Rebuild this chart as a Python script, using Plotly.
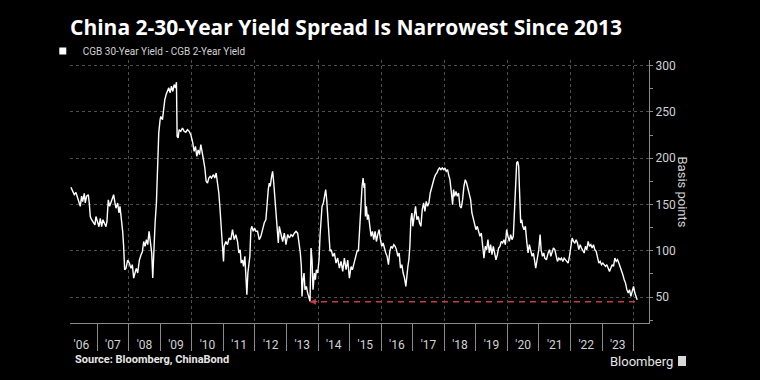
import plotly.graph_objects as go
from datetime import datetime

# ---------------- data (decimal year, basis points) ----------------
t_2006_2008 = [2006.169, 2006.222, 2006.275, 2006.328, 2006.381, 2006.434, 2006.466, 2006.508, 2006.540, 2006.593,
               2006.624, 2006.667, 2006.720, 2006.751, 2006.783, 2006.825, 2006.889, 2006.931, 2006.963,
               2007.016, 2007.058, 2007.101, 2007.143, 2007.185, 2007.228, 2007.280, 2007.312, 2007.354, 2007.397,
               2007.439, 2007.492, 2007.524, 2007.566, 2007.598, 2007.651, 2007.693, 2007.725, 2007.767, 2007.810,
               2007.841, 2007.873, 2007.915, 2007.968,
               2008.021, 2008.074, 2008.116, 2008.159, 2008.201, 2008.243, 2008.286, 2008.339, 2008.392, 2008.434,
               2008.476, 2008.519, 2008.561, 2008.603, 2008.646, 2008.688, 2008.730, 2008.762, 2008.794, 2008.836,
               2008.878, 2008.921, 2008.952, 2008.995]
v_2006_2008 = [168.5, 164, 160.6, 163, 157, 153, 148, 159, 153, 162,
               151.6, 159, 160.6, 151.6, 137, 133.6, 130, 128, 137,
               131.8, 126, 135, 126, 133.6, 130, 126, 131.8, 155, 148,
               153, 159, 160.6, 151.6, 146, 151.6, 140.8, 148, 135, 121,
               104.8, 79.5, 81, 90,
               86.7, 81, 85, 70.5, 76, 81, 76, 90, 95.7, 99,
               110, 104.8, 112, 106.6, 121, 110, 97.5, 70.5, 104.8, 130,
               151.6, 198, 227, 241.6]

t_2009_2011 = [2009.016, 2009.069, 2009.101, 2009.143, 2009.185, 2009.228, 2009.270, 2009.312, 2009.354, 2009.397,
               2009.439, 2009.481, 2009.513, 2009.534, 2009.566, 2009.598, 2009.651, 2009.704, 2009.757, 2009.810,
               2009.862, 2009.915, 2009.968,
               2010.021, 2010.074, 2010.116, 2010.159, 2010.201, 2010.243, 2010.286, 2010.328, 2010.370, 2010.413,
               2010.455, 2010.497, 2010.540, 2010.582, 2010.624, 2010.688, 2010.730, 2010.772, 2010.815, 2010.857,
               2010.889, 2010.921, 2010.952, 2010.984,
               2011.005, 2011.026, 2011.079, 2011.132, 2011.185, 2011.238, 2011.291, 2011.344, 2011.397, 2011.450,
               2011.492, 2011.534, 2011.566, 2011.608, 2011.640, 2011.683, 2011.714, 2011.746, 2011.778, 2011.810,
               2011.841, 2011.873, 2011.905, 2011.947, 2011.989, 2012.032]
v_2009_2011 = [245, 241.6, 252.4, 263, 268.7, 272, 275.9, 270.5, 277.7, 272,
               279.5, 275.9, 282, 223.6, 221.8, 230.8, 229, 232.6, 229, 228,
               230.8, 229, 225.4,
               218, 207.4, 212.8, 202, 209, 203.8, 214.6, 203.8, 198.4, 189.4,
               175, 173, 178.6, 180.4, 178.6, 182.2, 178.6, 184, 173, 162.4,
               148, 133.6, 115.6, 104.8,
               88.5, 104.8, 110, 106.6, 113.8, 112, 122.8, 112, 117.4, 110,
               97.6, 101, 86.7, 90, 83, 94, 72.3, 52.5, 76, 90,
               94, 122.8, 126.4, 121, 124.6, 121]

t_2012_2014 = [2012.085, 2012.138, 2012.190, 2012.243, 2012.296, 2012.349, 2012.381, 2012.423, 2012.455, 2012.487,
               2012.529, 2012.561, 2012.593, 2012.635, 2012.667, 2012.698, 2012.741, 2012.772, 2012.825, 2012.878,
               2012.931, 2012.984,
               2013.037, 2013.090, 2013.143, 2013.196, 2013.249, 2013.302, 2013.354, 2013.397, 2013.439, 2013.471,
               2013.492, 2013.524, 2013.556, 2013.587, 2013.630, 2013.672, 2013.714, 2013.746, 2013.778, 2013.810,
               2013.841, 2013.884, 2013.915, 2013.947, 2013.989,
               2014.032, 2014.063, 2014.095, 2014.127, 2014.169, 2014.201, 2014.243, 2014.275, 2014.307, 2014.339,
               2014.381, 2014.423, 2014.466, 2014.519, 2014.571, 2014.624, 2014.677, 2014.730, 2014.783, 2014.836,
               2014.889, 2014.942, 2014.995, 2015.048]
v_2012_2014 = [121, 112, 115.6, 122.8, 130, 133.6, 151.6, 166, 173, 169.6,
               180.4, 185.8, 175, 155.2, 135.4, 122.8, 108.4, 126.4, 119, 110,
               119, 106.6,
               117.4, 113.8, 117.4, 115.6, 119, 121, 119, 110, 97.6, 83,
               50.7, 68.7, 76, 58, 61.5, 54.3, 49, 45.5, 103, 90,
               58, 76, 68.7, 79.5, 76,
               90, 115.6, 137, 148, 151.6, 158.8, 166, 155, 137, 115.6,
               99.4, 101, 94, 97.6, 86.7, 92.1, 81.3, 88.5, 77.7, 92,
               79.5, 90, 70.5, 83]

t_2015_2017 = [2015.090, 2015.143, 2015.196, 2015.249, 2015.280, 2015.302, 2015.333, 2015.365, 2015.397, 2015.429,
               2015.460, 2015.481, 2015.503, 2015.534, 2015.566, 2015.598, 2015.640, 2015.683, 2015.725, 2015.767,
               2015.810, 2015.852, 2015.894, 2015.937, 2015.979,
               2016.021, 2016.063, 2016.106, 2016.148, 2016.190, 2016.233, 2016.275, 2016.317, 2016.360, 2016.402,
               2016.444, 2016.487, 2016.529, 2016.571, 2016.614, 2016.656, 2016.698, 2016.741, 2016.783, 2016.815,
               2016.847, 2016.878, 2016.910, 2016.942, 2016.974,
               2017.005, 2017.048, 2017.090, 2017.132, 2017.175, 2017.217, 2017.259, 2017.302, 2017.344, 2017.386,
               2017.429, 2017.471, 2017.513, 2017.556, 2017.598, 2017.640, 2017.683, 2017.725, 2017.767, 2017.810,
               2017.852, 2017.894, 2017.937, 2017.979, 2018.021, 2018.063, 2018.106]
v_2015_2017 = [79.5, 86.7, 94, 101, 99.4, 115.6, 133.6, 155, 169.6, 178.6,
               167.8, 173, 137, 148, 133.6, 139, 126.4, 115.6, 121, 112,
               121, 110, 117.4, 122.8, 112,
               104.8, 108.4, 101, 97.6, 94, 85, 99.4, 104.8, 103, 106.6,
               104.8, 101, 94, 97.6, 81.3, 85, 76, 70.5, 61.5, 76,
               83, 90, 104.8, 133.6, 140.8,
               126.4, 137, 148, 133.6, 137, 130, 126.4, 144.4, 151.6, 142.6,
               153.4, 148, 151.6, 162.4, 167.8, 175, 178.6, 182.2, 184, 187.6,
               189.4, 187.6, 189.4, 187.6, 189.4, 185.8, 187.6]

t_2018_2020 = [2018.138, 2018.180, 2018.222, 2018.265, 2018.296, 2018.328, 2018.370, 2018.413, 2018.455, 2018.497,
               2018.540, 2018.582, 2018.624, 2018.667, 2018.709, 2018.751, 2018.794, 2018.836, 2018.878, 2018.921,
               2018.963,
               2019.005, 2019.048, 2019.090, 2019.132, 2019.175, 2019.217, 2019.259, 2019.302, 2019.344, 2019.386,
               2019.429, 2019.471, 2019.513, 2019.556, 2019.598, 2019.640, 2019.683, 2019.725, 2019.767, 2019.810,
               2019.852, 2019.894, 2019.937, 2019.979,
               2020.021, 2020.063, 2020.106, 2020.148, 2020.190, 2020.233, 2020.265, 2020.296, 2020.328, 2020.360,
               2020.381, 2020.402, 2020.423, 2020.455, 2020.487, 2020.529, 2020.571, 2020.614, 2020.656, 2020.698,
               2020.741, 2020.783, 2020.825, 2020.868, 2020.899, 2020.942, 2020.995,
               2021.037, 2021.069, 2021.111, 2021.153]
v_2018_2020 = [182.2, 176.8, 164.2, 149.8, 166, 158.8, 164.2, 158.8, 162.4, 148,
               146.2, 155.2, 169.6, 176.8, 173.2, 167.8, 162.4, 155.2, 140.8, 133.6,
               128.2,
               122.8, 126.4, 119.2, 115.6, 119.2, 106.6, 92.1, 104.8, 101.2, 112,
               97.6, 106.6, 95.7, 104.8, 97.6, 90.3, 95.7, 103, 104.8, 110.2,
               108.4, 112, 106.6, 122.8,
               115.6, 110.2, 117.4, 112, 115.6, 148, 176.8, 194.8, 196.6, 191.2,
               169.6, 148, 130, 133.6, 126.4, 122.8, 126.4, 110.2, 97.6, 106.6,
               101.2, 94, 97.6, 86.7, 81.3, 90.3, 101.2,
               117.4, 101.2, 94, 97.6]

t_2021_2024 = [2021.185, 2021.238, 2021.291, 2021.333, 2021.376, 2021.418, 2021.460, 2021.503, 2021.545, 2021.587,
               2021.630, 2021.672, 2021.714, 2021.757, 2021.799, 2021.841, 2021.884, 2021.926, 2021.968,
               2022.011, 2022.053, 2022.095, 2022.138, 2022.180, 2022.222, 2022.265, 2022.307, 2022.349, 2022.392,
               2022.434, 2022.476, 2022.519, 2022.561, 2022.603, 2022.646, 2022.688, 2022.730, 2022.772, 2022.815,
               2022.857, 2022.899, 2022.942, 2022.984,
               2023.026, 2023.069, 2023.111, 2023.153, 2023.196, 2023.238, 2023.280, 2023.323, 2023.365, 2023.407,
               2023.450, 2023.492, 2023.534, 2023.577, 2023.619, 2023.661, 2023.704, 2023.746, 2023.788, 2023.831,
               2023.873, 2023.915, 2023.958,
               2024.000, 2024.042, 2024.085, 2024.116]
v_2021_2024 = [92.1, 90.3, 97.6, 101.2, 94, 99.4, 103, 101.2, 94, 88.5,
               92.1, 90.3, 92.1, 88.5, 92.1, 90.3, 88.5, 86.7, 94,
               104.8, 113.8, 110.2, 108.4, 112, 108.4, 101.2, 106.6, 103, 99.4,
               97.6, 104.8, 101.2, 110.2, 104.8, 106.6, 103, 106.6, 101.2, 99.4,
               92.1, 86.7, 88.5, 85,
               86.7, 85, 83.1, 85, 81.3, 77.7, 81.3, 85, 83.1, 92.1,
               88.5, 90.3, 86.7, 83.1, 77.7, 74.1, 68.7, 65.1, 58, 54.3,
               58, 50.7, 56.1,
               61.5, 54.3, 49, 47.1]

# narrowest-level reference (2013 low carried forward to latest)
narrow_level = 45
narrow_from = 2013.746
narrow_to = 2024.116

series_name = "CGB 30-Year Yield - CGB 2-Year Yield"
title_text = "China 2-30-Year Yield Spread Is Narrowest Since 2013"
source_text = "Source: Bloomberg, ChinaBond"


def to_date(t):
    y = int(t)
    start, end = datetime(y, 1, 1), datetime(y + 1, 1, 1)
    return start + (end - start) * (t - y)


years = t_2006_2008 + t_2009_2011 + t_2012_2014 + t_2015_2017 + t_2018_2020 + t_2021_2024
values = v_2006_2008 + v_2009_2011 + v_2012_2014 + v_2015_2017 + v_2018_2020 + v_2021_2024
dates = [to_date(t) for t in years]

GRID = "#4d4d4d"
AXIS = "#8a8a8a"
TXT = "#d2d2d2"
RED = "#c43c46"
FONT = "Roboto"

fig = go.Figure()

fig.add_trace(go.Scatter(
    x=dates, y=values, mode="lines", name=series_name, showlegend=False,
    line=dict(color="white", width=1.4), hoverinfo="skip"))

# legend entry with square swatch
fig.add_trace(go.Scatter(
    x=[None], y=[None], mode="markers", name=series_name,
    marker=dict(symbol="square", size=7, color="white")))

fig.add_trace(go.Scatter(
    x=[to_date(narrow_from), to_date(narrow_to)], y=[narrow_level, narrow_level],
    xaxis="x2", mode="lines", showlegend=False, hoverinfo="skip",
    line=dict(color=RED, width=1.6, dash="6px,5px")))

fig.update_layout(
    width=760, height=380,
    margin=dict(l=70, r=111, t=60, b=57),
    paper_bgcolor="black", plot_bgcolor="black",
    font=dict(family=FONT, color=TXT, size=12),
    title=dict(text=title_text, x=70 / 760, xanchor="left", xref="container",
               y=1 - 28 / 380, yanchor="middle", yref="container",
               font=dict(family="Open Sans", size=21, color="white", weight=700)),
    showlegend=True,
    legend=dict(orientation="h", x=-0.047, xanchor="left", y=1 + 9 / 263, yanchor="middle",
                bgcolor="rgba(0,0,0,0)", font=dict(family=FONT, size=10, color=TXT),
                itemwidth=30, borderwidth=0),
    xaxis=dict(
        type="date",
        range=[to_date(2006.14), "2024-06-28"],
        showgrid=False, zeroline=False,
        showline=True, linecolor=AXIS, linewidth=1,
        ticks="outside", ticklen=27, tickcolor=AXIS, tickwidth=1,
        dtick="M12", tick0="2006-01-01", ticklabelmode="period",
        tickformat="'%y", tickfont=dict(size=12, color=TXT),
        ticklabelstandoff=-16,
    ),
    xaxis2=dict(
        type="date", overlaying="x", matches="x",
        dtick="M24", tick0="2008-01-01",
        showgrid=True, gridcolor=GRID, griddash="dot", gridwidth=1,
        showticklabels=False, ticks="", showline=False, zeroline=False,
    ),
    yaxis=dict(
        side="right", range=[22, 306],
        dtick=50, tick0=0,
        showgrid=True, gridcolor=GRID, griddash="dot", gridwidth=1,
        zeroline=False,
        showline=True, linecolor=AXIS, linewidth=1,
        ticks="outside", ticklen=3, tickcolor=AXIS,
        minor=dict(dtick=25, ticks="outside", ticklen=3, tickcolor=AXIS, showgrid=False),
        tickfont=dict(size=12, color=TXT),
    ),
    annotations=[
        dict(text="Basis points", xref="paper", yref="paper", x=(682 - 70) / 579, y=0.5,
             textangle=90, showarrow=False, font=dict(size=13, color=TXT),
             xanchor="center", yanchor="middle"),
        dict(text="<b>" + source_text + "</b>", xref="paper", yref="paper",
             x=(73 - 70) / 579, y=(323 - 359) / 263, xanchor="left", yanchor="middle",
             showarrow=False, font=dict(size=11, color="#e6e6e6")),
        dict(text="Bloomberg", xref="paper", yref="paper",
             x=(675 - 70) / 579, y=(323 - 361) / 263, xanchor="right", yanchor="middle",
             showarrow=False, font=dict(size=13, color="#e6e6e6")),
        dict(text="", x=to_date(narrow_from), y=narrow_level, xref="x", yref="y",
             ax=9, ay=0, showarrow=True, arrowhead=2, arrowsize=0.9, arrowwidth=1.3,
             arrowcolor=RED),
    ],
    shapes=[
        dict(type="rect", xref="paper", yref="paper",
             x0=(678 - 70) / 579, x1=(686 - 70) / 579,
             y0=(323 - 366) / 263, y1=(323 - 356) / 263,
             fillcolor="#d9d9d9", line=dict(width=0)),
    ],
)

fig.write_html("out.html", config={"displayModeBar": False},
               post_script="document.body.style.margin='0';")
